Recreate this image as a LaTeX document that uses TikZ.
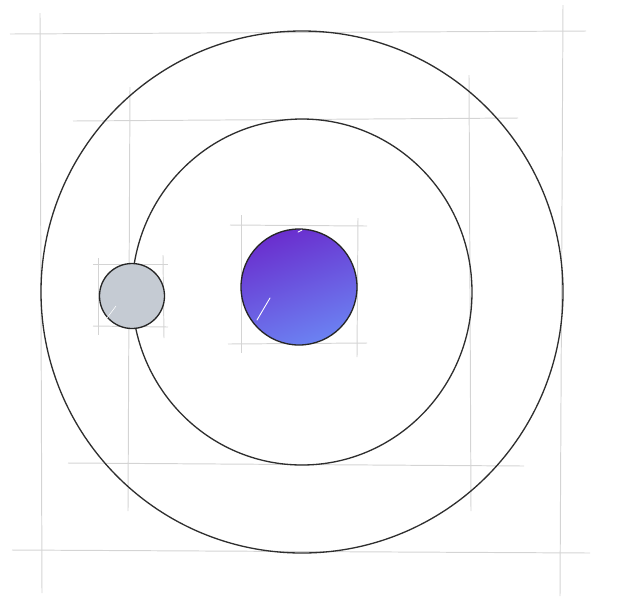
\documentclass[tikz,border=0pt]{standalone}
\usepackage[dvipsnames]{xcolor}
\usepackage{tikz}
\usetikzlibrary{calc}
\definecolor{sunTop}{HTML}{6A2ECE}
\definecolor{sunBot}{HTML}{6B82F2}
\definecolor{moonFill}{HTML}{C5CBD3}
\tikzset{guide/.style={draw=black!17,line width=0.55pt},
  orbit/.style={draw=black!82,line width=0.75pt},
  body/.style={draw=black!85,line width=0.75pt},
  scratch/.style={white,line width=0.5pt,line cap=round}}

\begin{document}
\begin{tikzpicture}[x=0.02cm,y=-0.02cm]
\useasboundingbox (0,0) rectangle (626,610);
% construction lines
\draw[guide] (10,34)--(586,31);
\draw[guide] (40,13)--(42,593);
\draw[guide] (563,5)--(560,596);
\draw[guide] (12,550)--(590,553);
\draw[guide] (73,121)--(518,118);
\draw[guide] (130,87)--(128,511);
\draw[guide] (469,75)--(471,511);
\draw[guide] (68,463)--(524,466);
\draw[guide] (230,225)--(367,226);
\draw[guide] (228,344)--(367,343);
\draw[guide] (241,215)--(241,353);
\draw[guide] (358,218)--(357,357);
\draw[guide] (93,264)--(168,264);
\draw[guide] (93,326)--(168,327);
\draw[guide] (98,258)--(98,335);
\draw[guide] (163,255)--(164,338);
% orbits
\coordinate (c) at (302,292);
\draw[orbit] (c) circle[radius=261];
\draw[orbit] (c) ellipse[x radius=170,y radius=173];
% sun and planet
\shade[body,top color=sunTop,bottom color=sunBot,shading angle=20] (299,287) circle[radius=58];
\draw[scratch] (257,320)--(270,298);
\draw[scratch] (298,232)--(302,230);
\fill[moonFill] (132,296) circle[radius=32.5];
\draw[body] (132,296) circle[radius=32.5];
\draw[scratch,line width=0.3pt] (107,318)--(116,306);
\end{tikzpicture}
\end{document}
